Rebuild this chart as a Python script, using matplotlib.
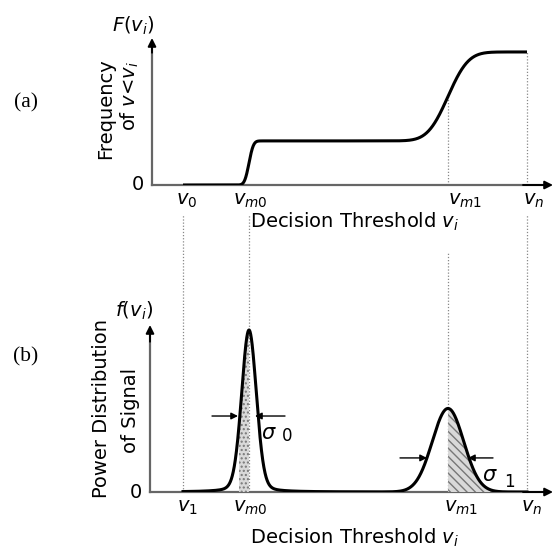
import math
import numpy as np
import matplotlib
matplotlib.use("Agg")
import matplotlib.pyplot as plt

plt.rcParams['font.family'] = ['DejaVu Sans']
plt.rcParams['mathtext.fontset'] = 'dejavusans'

# ---------------- data (threshold units) ----------------
thr_top = [0.31, 0.97, 2.96, 3.75]
thr_top_labels = [r'$v_{\mathit{0}}$', r'$v_{\mathit{m0}}$', r'$v_{\mathit{m1}}$', r'$v_{\mathit{n}}$']
thr_bot = [0.31, 0.97, 2.96, 3.75]
thr_bot_labels = [r'$v_{\mathit{1}}$', r'$v_{\mathit{m0}}$', r'$v_{\mathit{m1}}$', r'$v_{\mathit{n}}$']

# cumulative curve F(v): plateau levels and step parameters
F_levels = [0.0, 0.30, 0.905]
F_step_centers = [0.97, 2.96]
F_step_widths = [0.035, 0.16]

# distribution f(v): two peaks
peak_centers = [0.97, 2.96]
peak_heights = [0.97, 0.50]
peak_sigmas = [0.074, 0.157]
peak_tail_frac = [0.15, 0.0]
peak_tail_gamma = [0.09, 0.1]

# shaded regions (threshold units)
shade_ranges = [(0.87, 0.97), (2.96, 3.45)]
# sigma arrows: (left tail, left tip, right tip, right tail, height)
sigma_arrows = [(0.60, 0.86, 1.03, 1.33, 0.455), (2.48, 2.75, 3.16, 3.41, 0.204)]

W, H = 553, 551
fig = plt.figure(figsize=(W / 100, H / 100), dpi=100)

def fx(px):
    return px / W

def fy(py):
    return 1 - py / H

ax_a = fig.add_axes([fx(152), fy(185), (553 - 152) / W, (185 - 38) / H])
ax_b = fig.add_axes([fx(150), fy(492), (553 - 150) / W, (492 - 325) / H])
ax_a.set_xlim(0, 4.01); ax_a.set_ylim(0, 1)
ax_b.set_xlim(-0.02, 4.01); ax_b.set_ylim(0, 1)
for ax in (ax_a, ax_b):
    ax.set_axis_off()

erf = np.vectorize(math.erf)

def F_curve(x):
    y = np.full_like(x, F_levels[0])
    for i, (c, w) in enumerate(zip(F_step_centers, F_step_widths)):
        y = y + (F_levels[i + 1] - F_levels[i]) * 0.5 * (1 + erf((x - c) / (w * np.sqrt(2))))
    return y

def f_peak(x, i):
    g = np.exp(-(x - peak_centers[i]) ** 2 / (2 * peak_sigmas[i] ** 2))
    l = 1 / (1 + ((x - peak_centers[i]) / peak_tail_gamma[i]) ** 2)
    eta = peak_tail_frac[i]
    return peak_heights[i] * ((1 - eta) * g + eta * l)

def f_curve(x):
    return sum(f_peak(x, i) for i in range(len(peak_centers)))

axis_col = '#666666'

def draw_axes(ax, x0, x1):
    ax.plot([x0, x0], [0, 0.97], color=axis_col, lw=1.6, clip_on=False, zorder=2)
    ax.plot([x0, x1 - 0.05], [0, 0], color=axis_col, lw=1.6, clip_on=False, zorder=2)
    ax.annotate('', xy=(x0, 1.0), xytext=(x0, 0.9),
                arrowprops=dict(arrowstyle='-|>', color='k', lw=1.4, mutation_scale=12,
                                shrinkA=0, shrinkB=0), annotation_clip=False)
    ax.annotate('', xy=(x1, 0), xytext=(x1 - 0.3, 0),
                arrowprops=dict(arrowstyle='-|>', color='k', lw=1.4, mutation_scale=12,
                                shrinkA=0, shrinkB=0), annotation_clip=False)

draw_axes(ax_a, 0.0, 4.01)
draw_axes(ax_b, -0.02, 4.01)

# ---- panel (a) curve ----
xa = np.linspace(thr_top[0], thr_top[-1], 1500)
ax_a.plot(xa, F_curve(xa), color='k', lw=2.2, zorder=3, solid_capstyle='butt')
dot_kw = dict(color='#888888', lw=0.9, linestyle=(0, (1, 1.5)), clip_on=False, zorder=1)
ax_a.plot([thr_top[2]] * 2, [0, F_curve(np.array([thr_top[2]]))[0]], **dot_kw)
ax_a.plot([thr_top[3]] * 2, [0, F_levels[-1]], **dot_kw)

# ---- panel (b) curve ----
xb = np.linspace(thr_bot[0], thr_bot[-1], 3000)
yb = f_curve(xb)
for (s0, s1), hatch in zip(shade_ranges, ['....', '\\\\\\\\']):
    m = (xb >= s0) & (xb <= s1)
    ax_b.fill_between(xb[m], 0, yb[m], facecolor='#d9d9d9', edgecolor='#777777',
                      hatch=hatch, lw=0, zorder=2)
ax_b.plot(xb, yb, color='k', lw=2.2, zorder=3)

# dotted threshold lines spanning into the gap between panels
top_ends = [1.66, 1.66, 1.44, 1.66]
for x, t in zip(thr_bot, top_ends):
    ax_b.plot([x, x], [0, t], **dot_kw)

# sigma arrows
for (lt, ltip, rtip, rt, h) in sigma_arrows:
    for tail, tip in ((lt, ltip), (rt, rtip)):
        ax_b.annotate('', xy=(tip, h), xytext=(tail, h),
                      arrowprops=dict(arrowstyle='-|>', color='k', lw=1.0, mutation_scale=10,
                                      shrinkA=0, shrinkB=0), zorder=4)

# ---- texts ----
ts = 14
label_dx_top = [0.04, 0.01, 0.17, 0.07]
for x, lab, dx in zip(thr_top, thr_top_labels, label_dx_top):
    ax_a.text(x + dx, -0.105, lab, ha='center', va='center', fontsize=ts)
label_dx_bot = [0.04, 0.01, 0.13, 0.05]
for x, lab, dx in zip(thr_bot, thr_bot_labels, label_dx_bot):
    ax_b.text(x + dx, -0.09, lab, ha='center', va='center', fontsize=ts)

fig.text(fx(250), fy(222), r'Decision Threshold $v_i$', ha='left', va='center', fontsize=ts)
fig.text(fx(250), fy(538), r'Decision Threshold $v_i$', ha='left', va='center', fontsize=ts)

fig.text(fx(106), fy(109), 'Frequency', rotation=90, ha='center', va='center', fontsize=ts)
fig.text(fx(130), fy(96), r'of $v$<$v_i$', rotation=90, ha='center', va='center', fontsize=ts)
fig.text(fx(101), fy(409), 'Power Distribution', rotation=90, ha='center', va='center', fontsize=ts)
fig.text(fx(130), fy(410), 'of Signal', rotation=90, ha='center', va='center', fontsize=ts)

fig.text(fx(133), fy(26), r'$\mathit{F(v_i)}$', ha='center', va='center', fontsize=ts)
fig.text(fx(134), fy(311), r'$\mathit{f(v_i)}$', ha='center', va='center', fontsize=ts)

fig.text(fx(138), fy(184), '0', ha='center', va='center', fontsize=ts)
fig.text(fx(136), fy(492), '0', ha='center', va='center', fontsize=ts)

fig.text(fx(26), fy(103), '(a)', ha='center', va='center', fontsize=15.5,
         family='Liberation Serif')
fig.text(fx(26), fy(357), '(b)', ha='center', va='center', fontsize=15.5,
         family='Liberation Serif')

fig.text(fx(269), fy(433), r'$\sigma$', ha='center', va='center', fontsize=15)
fig.text(fx(287), fy(436), r'$\mathit{0}$', ha='center', va='center', fontsize=12)
fig.text(fx(490), fy(475), r'$\sigma$', ha='center', va='center', fontsize=15)
fig.text(fx(510), fy(482), r'$\mathit{1}$', ha='center', va='center', fontsize=12)

fig.savefig('out.png', dpi=100, facecolor='white')
